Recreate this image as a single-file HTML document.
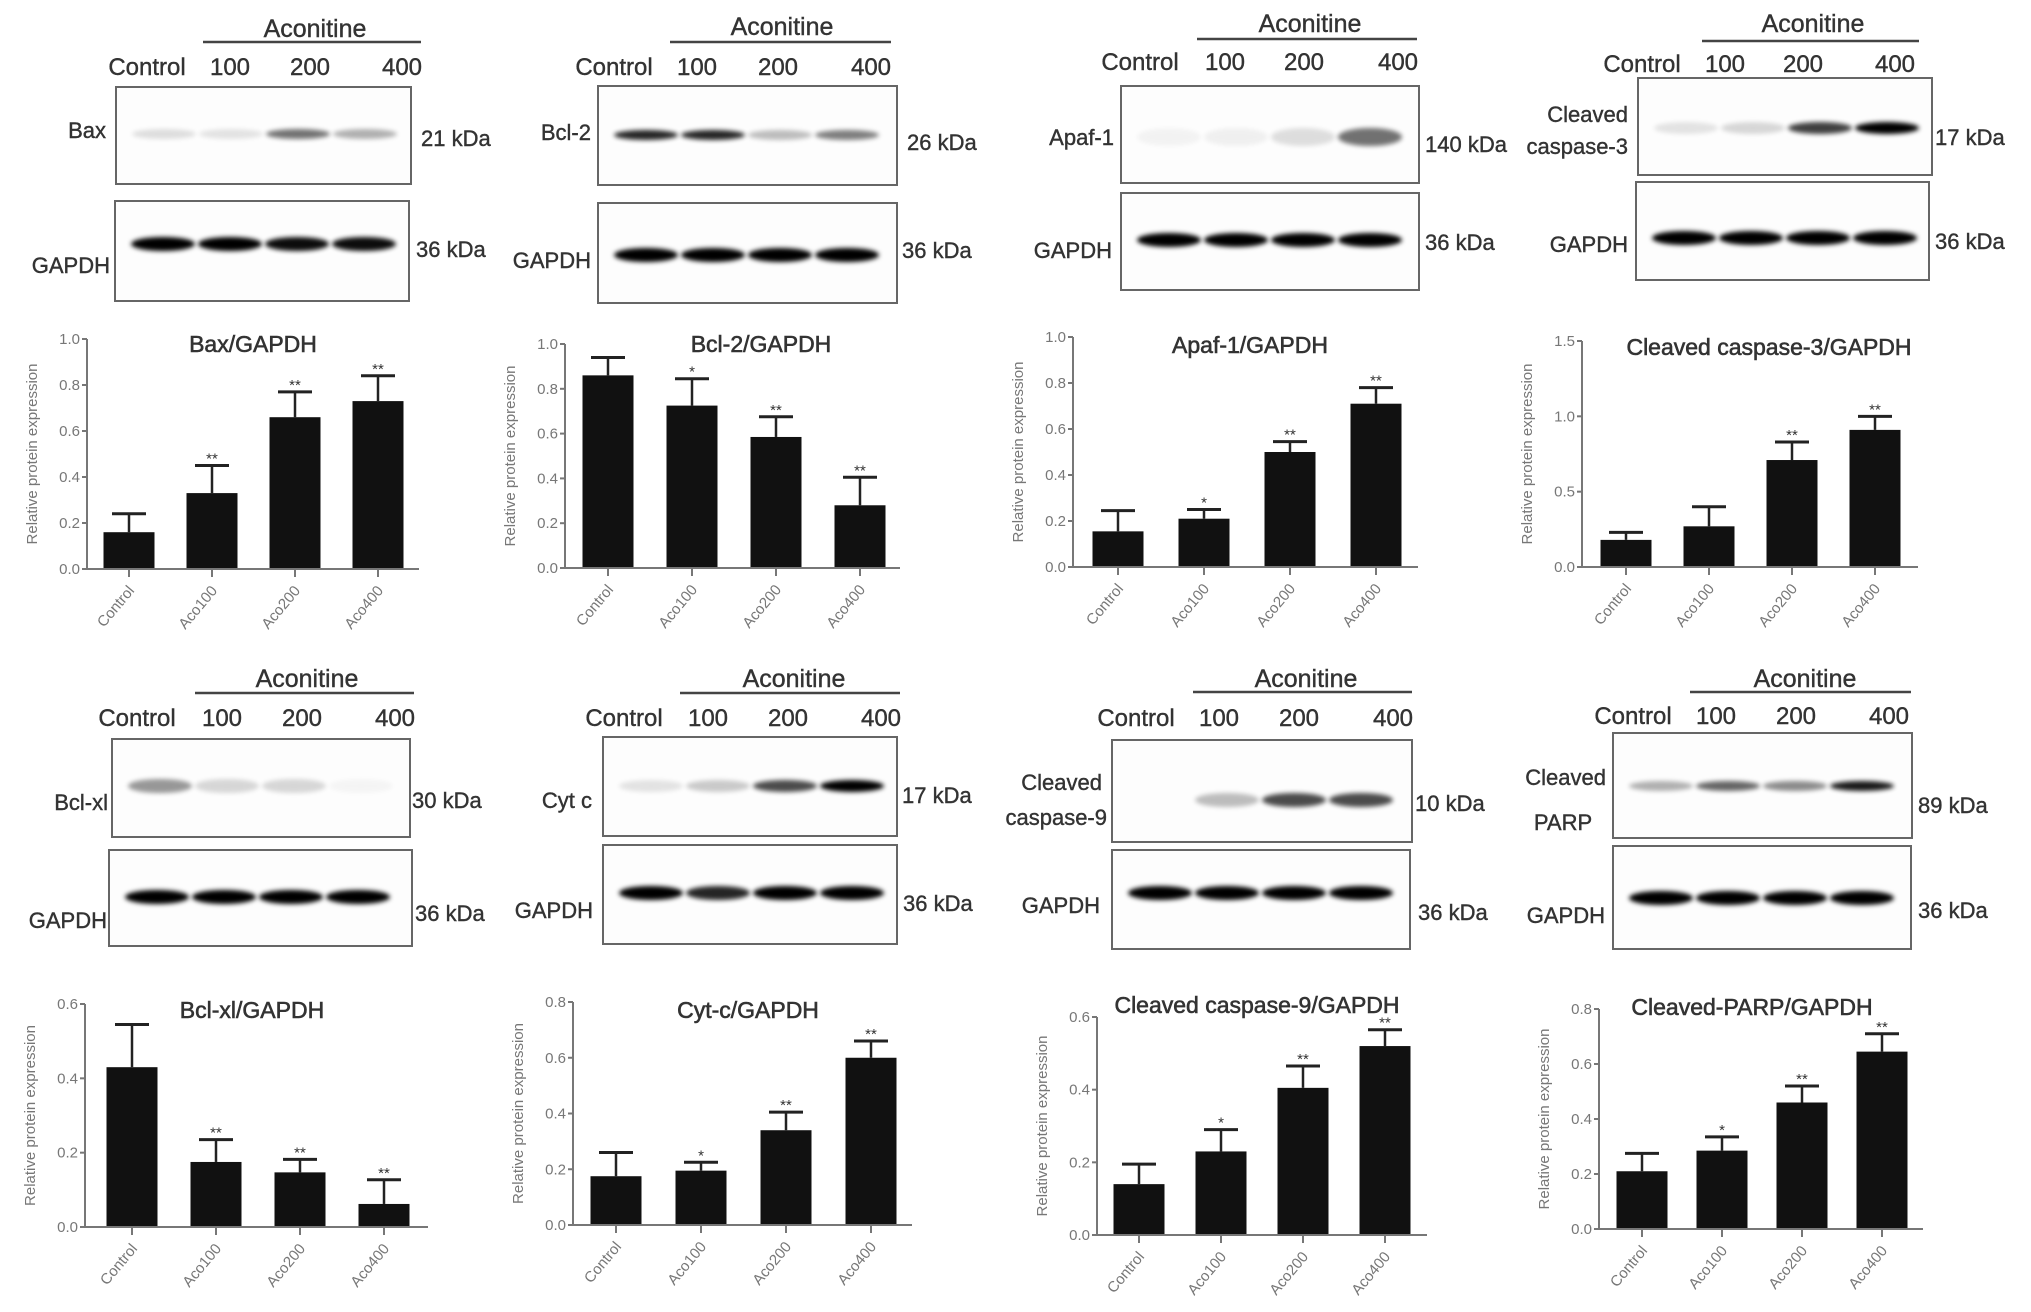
<!DOCTYPE html>
<html>
<head>
<meta charset="utf-8">
<style>
  html, body { margin: 0; padding: 0; background: #fff; }
  svg { display: block; }
  text { font-family: "Liberation Sans", "DejaVu Sans", sans-serif; }
</style>
</head>
<body>
<svg id="fig" xmlns="http://www.w3.org/2000/svg" width="2031" height="1312" viewBox="0 0 2031 1312">
  <defs>
    <filter id="blur" x="-50%" y="-100%" width="200%" height="300%">
      <feGaussianBlur stdDeviation="2.5"/>
    </filter>
  </defs>
</svg>
<script>
// ---------- Chart data ----------
const categories = ['Control', 'Aco100', 'Aco200', 'Aco400'];

const baxMeans = [0.16, 0.33, 0.66, 0.73];
const baxErrs = [0.08, 0.12, 0.11, 0.11];
const baxStars = ['', '**', '**', '**'];

const bcl2Means = [0.86, 0.725, 0.585, 0.28];
const bcl2Errs = [0.08, 0.12, 0.09, 0.125];
const bcl2Stars = ['', '*', '**', '**'];

const apafMeans = [0.155, 0.21, 0.50, 0.71];
const apafErrs = [0.09, 0.04, 0.045, 0.07];
const apafStars = ['', '*', '**', '**'];

const casp3Means = [0.18, 0.27, 0.71, 0.91];
const casp3Errs = [0.05, 0.13, 0.12, 0.09];
const casp3Stars = ['', '', '**', '**'];

const bclxlMeans = [0.43, 0.175, 0.147, 0.062];
const bclxlErrs = [0.115, 0.06, 0.035, 0.065];
const bclxlStars = ['', '**', '**', '**'];

const cytcMeans = [0.175, 0.195, 0.34, 0.60];
const cytcErrs = [0.085, 0.03, 0.065, 0.06];
const cytcStars = ['', '*', '**', '**'];

const casp9Means = [0.14, 0.23, 0.405, 0.52];
const casp9Errs = [0.055, 0.06, 0.06, 0.045];
const casp9Stars = ['', '*', '**', '**'];

const parpMeans = [0.21, 0.285, 0.46, 0.645];
const parpErrs = [0.065, 0.05, 0.06, 0.065];
const parpStars = ['', '*', '**', '**'];

const ticks01 = [0, 0.2, 0.4, 0.6, 0.8, 1.0];
const tickLabels01 = ['0.0', '0.2', '0.4', '0.6', '0.8', '1.0'];
const ticks15 = [0, 0.5, 1.0, 1.5];
const tickLabels15 = ['0.0', '0.5', '1.0', '1.5'];
const ticks06 = [0, 0.2, 0.4, 0.6];
const tickLabels06 = ['0.0', '0.2', '0.4', '0.6'];
const ticks08 = [0, 0.2, 0.4, 0.6, 0.8];
const tickLabels08 = ['0.0', '0.2', '0.4', '0.6', '0.8'];

const laneLabels = ['Control', '100', '200', '400'];

// ---------- helpers ----------
const svg = document.getElementById('fig');
const NS = 'http://www.w3.org/2000/svg';
function mk(tag, attrs, parent) {
  const e = document.createElementNS(NS, tag);
  for (const k in attrs) e.setAttribute(k, attrs[k]);
  (parent || svg).appendChild(e);
  return e;
}
function txt(str, attrs, parent) {
  const t = mk('text', attrs, parent);
  t.textContent = str;
  return t;
}

// ---------- blots ----------
function drawBlot(b) {
  const g = mk('g', {});
  
  
  const aco = txt('Aconitine', {x: b.aco[0], y: b.aco[1], 'font-size': 25, fill: '#333', 'text-anchor': 'middle', 'stroke': '#333', 'stroke-width': 0.4}, g);
  
  
  const ln = mk('line', {x1: b.line[0], x2: b.line[1], y1: b.line[2], y2: b.line[2], stroke: '#444', 'stroke-width': 2.5}, g);
  
  
  b.lanes.forEach((lx, i) => {
    const t = txt(laneLabels[i], {x: lx, y: b.laneY, 'font-size': 24, fill: '#333', 'text-anchor': 'middle', 'stroke': '#333', 'stroke-width': 0.4}, g);
    
    
  });
  [[b.box, b.inten1, b.band1, b.ry1], [b.box2, b.inten2, b.band2, 7]].forEach((bx, k) => {
    const r = mk('rect', {x: bx[0][0], y: bx[0][1], width: bx[0][2], height: bx[0][3], fill: '#fdfdfd', stroke: '#666', 'stroke-width': 2}, g);
    
    
    bx[1].forEach((v, i) => {
      if (v <= 0) return;
      const cx = bx[0][0] + 48 + 67 * i;
      const e = mk('ellipse', {cx: cx, cy: bx[2], rx: 32, ry: bx[3], fill: '#000', opacity: v, filter: 'url(#blur)'}, g);
      
      
    });
  });
  b.names.forEach(n => {
    const t = txt(n[0], {x: n[1], y: n[2], 'font-size': n[3] || 22, fill: '#333', 'text-anchor': n[4] || 'end', 'stroke': '#333', 'stroke-width': 0.4}, g);
    
    
  });
  const k1 = txt(b.kda, {x: b.kdaXY[0], y: b.kdaXY[1], 'font-size': 22, fill: '#333', 'stroke': '#333', 'stroke-width': 0.4}, g);
  
  
  const gl = txt('GAPDH', {x: b.gXY[0], y: b.gXY[1], 'font-size': 22, fill: '#333', 'text-anchor': 'end', 'stroke': '#333', 'stroke-width': 0.4}, g);
  
  
  const k2 = txt('36 kDa', {x: b.k2XY[0], y: b.k2XY[1], 'font-size': 22, fill: '#333', 'stroke': '#333', 'stroke-width': 0.4}, g);
  
  
}

const blots = [
  {id: 'bax', lanes: [147, 230, 310, 402], laneY: 75, aco: [315, 37], line: [203, 421, 42],
   box: [116, 87, 295, 97], box2: [115, 201, 294, 100], band1: 134, band2: 244, ry1: 5,
   inten1: [0.12, 0.1, 0.55, 0.3], inten2: [1, 1, 0.95, 0.95],
   names: [['Bax', 106, 138]], kda: '21 kDa', kdaXY: [421, 146], gXY: [110, 273], k2XY: [416, 257]},
  {id: 'bcl-2', lanes: [614, 697, 778, 871], laneY: 75, aco: [782, 35], line: [670, 891, 42],
   box: [598, 86, 299, 99], box2: [598, 203, 299, 100], band1: 135, band2: 255, ry1: 5,
   inten1: [0.85, 0.85, 0.25, 0.5], inten2: [1, 1, 1, 1],
   names: [['Bcl-2', 591, 140]], kda: '26 kDa', kdaXY: [907, 150], gXY: [591, 268], k2XY: [902, 258]},
  {id: 'apaf-1', lanes: [1140, 1225, 1304, 1398], laneY: 70, aco: [1310, 32], line: [1197, 1417, 39],
   box: [1121, 86, 298, 97], box2: [1121, 193, 298, 97], band1: 137, band2: 240, ry1: 9,
   inten1: [0.04, 0.05, 0.12, 0.55], inten2: [1, 1, 1, 1],
   names: [['Apaf-1', 1114, 145]], kda: '140 kDa', kdaXY: [1425, 152], gXY: [1112, 258], k2XY: [1425, 250]},
  {id: 'cleaved-caspase-3', lanes: [1642, 1725, 1803, 1895], laneY: 72, aco: [1813, 32], line: [1702, 1919, 41],
   box: [1638, 78, 294, 97], box2: [1636, 182, 293, 98], band1: 128, band2: 238, ry1: 6,
   inten1: [0.1, 0.15, 0.75, 1], inten2: [1, 1, 1, 1],
   names: [['Cleaved', 1628, 122], ['caspase-3', 1628, 154]], kda: '17 kDa', kdaXY: [1935, 145], gXY: [1628, 252], k2XY: [1935, 249]},
  {id: 'bcl-xl', lanes: [137, 222, 302, 395], laneY: 726, aco: [307, 687], line: [195, 414, 693],
   box: [112, 739, 298, 98], box2: [109, 850, 303, 96], band1: 786, band2: 897, ry1: 7,
   inten1: [0.4, 0.15, 0.15, 0.03], inten2: [1, 1, 1, 1],
   names: [['Bcl-xl', 108, 810]], kda: '30 kDa', kdaXY: [412, 808], gXY: [107, 928], k2XY: [415, 921]},
  {id: 'cyt-c', lanes: [624, 708, 788, 881], laneY: 726, aco: [794, 687], line: [680, 900, 693],
   box: [603, 737, 294, 99], box2: [603, 845, 294, 99], band1: 786, band2: 893, ry1: 6,
   inten1: [0.1, 0.2, 0.7, 1], inten2: [1, 0.85, 1, 1],
   names: [['Cyt c', 592, 808]], kda: '17 kDa', kdaXY: [902, 803], gXY: [593, 918], k2XY: [903, 911]},
  {id: 'cleaved-caspase-9', lanes: [1136, 1219, 1299, 1393], laneY: 726, aco: [1306, 687], line: [1193, 1412, 692],
   box: [1112, 740, 300, 102], box2: [1112, 850, 298, 99], band1: 800, band2: 893, ry1: 7,
   inten1: [0, 0.25, 0.7, 0.7], inten2: [1, 1, 1, 1],
   names: [['Cleaved', 1102, 790], ['caspase-9', 1107, 825]], kda: '10 kDa', kdaXY: [1415, 811], gXY: [1100, 913], k2XY: [1418, 920]},
  {id: 'cleaved-parp', lanes: [1633, 1716, 1796, 1889], laneY: 724, aco: [1805, 687], line: [1690, 1911, 692],
   box: [1613, 733, 299, 105], box2: [1613, 846, 298, 103], band1: 786, band2: 898, ry1: 5,
   inten1: [0.3, 0.6, 0.45, 0.9], inten2: [1, 1, 1, 1],
   names: [['Cleaved', 1606, 785], ['PARP', 1563, 830, 22, 'middle']], kda: '89 kDa', kdaXY: [1918, 813], gXY: [1605, 923], k2XY: [1918, 918]}
];
blots.forEach(drawBlot);

// ---------- bar charts ----------
function drawChart(c, means, errs, stars, ticks, tickLabels) {
  const g = mk('g', {});
  
  
  const y = v => c.bot - (v / c.max) * (c.bot - c.top);
  const x = i => c.ax + c.off + c.step * i;
  const bw = 51;

  const t = txt(c.title, {x: c.tx, y: c.ty, 'font-size': 23, fill: '#333', 'text-anchor': 'middle', 'stroke': '#333', 'stroke-width': 0.6}, g);
  
  

  const yl = txt('Relative protein expression', {x: 0, y: 0, 'font-size': 15, fill: '#777', 'text-anchor': 'middle',
    transform: 'translate(' + (c.ax - 50) + ',' + ((c.top + c.bot) / 2) + ') rotate(-90)'}, g);
  
  

  means.forEach((m, i) => {
    const bar = mk('rect', {x: x(i) - bw / 2, y: y(m), width: bw, height: c.bot - y(m), fill: '#111'}, g);
    
    
    const top = y(m + errs[i]);
    const eb = mk('line', {x1: x(i), x2: x(i), y1: y(m), y2: top, stroke: '#222', 'stroke-width': 2.5}, g);
    
    
    const cap = mk('line', {x1: x(i) - 17, x2: x(i) + 17, y1: top, y2: top, stroke: '#222', 'stroke-width': 3}, g);
    
    
    if (stars[i]) {
      const s = txt(stars[i], {x: x(i), y: top - 2, 'font-size': 15, fill: '#333', 'text-anchor': 'middle'}, g);
      
      
    }
    const tk = mk('line', {x1: x(i), x2: x(i), y1: c.bot, y2: c.bot + 8, stroke: '#777', 'stroke-width': 2}, g);
    
    
    const xl = txt(categories[i], {x: 0, y: 0, 'font-size': 15, fill: '#777', 'text-anchor': 'end',
      transform: 'translate(' + (x(i) + 6) + ',' + (c.bot + 22) + ') rotate(-50)'}, g);
    
    
  });

  const ya = mk('line', {x1: c.ax, x2: c.ax, y1: c.top, y2: c.bot, stroke: '#777', 'stroke-width': 2}, g);
  
  
  const xa = mk('line', {x1: c.ax, x2: c.xend, y1: c.bot, y2: c.bot, stroke: '#777', 'stroke-width': 2}, g);
  
  
  ticks.forEach((v, i) => {
    const tk = mk('line', {x1: c.ax - 5, x2: c.ax, y1: y(v), y2: y(v), stroke: '#777', 'stroke-width': 2}, g);
    
    
    const tl = txt(tickLabels[i], {x: c.ax - 7, y: y(v) + 5, 'font-size': 15, fill: '#777', 'text-anchor': 'end'}, g);
    
    
  });
}

drawChart({id: 'bax', ax: 87, top: 339, bot: 569, xend: 419, off: 42, step: 83, max: 1.0, title: 'Bax/GAPDH', tx: 253, ty: 352},
  baxMeans, baxErrs, baxStars, ticks01, tickLabels01);
drawChart({id: 'bcl-2', ax: 565, top: 344, bot: 568, xend: 900, off: 43, step: 84, max: 1.0, title: 'Bcl-2/GAPDH', tx: 761, ty: 352},
  bcl2Means, bcl2Errs, bcl2Stars, ticks01, tickLabels01);
drawChart({id: 'apaf-1', ax: 1073, top: 337, bot: 567, xend: 1418, off: 45, step: 86, max: 1.0, title: 'Apaf-1/GAPDH', tx: 1250, ty: 353},
  apafMeans, apafErrs, apafStars, ticks01, tickLabels01);
drawChart({id: 'cleaved-caspase-3', ax: 1582, top: 341, bot: 567, xend: 1918, off: 44, step: 83, max: 1.5, title: 'Cleaved  caspase-3/GAPDH', tx: 1769, ty: 355},
  casp3Means, casp3Errs, casp3Stars, ticks15, tickLabels15);
drawChart({id: 'bcl-xl', ax: 85, top: 1004, bot: 1227, xend: 428, off: 47, step: 84, max: 0.6, title: 'Bcl-xl/GAPDH', tx: 252, ty: 1018},
  bclxlMeans, bclxlErrs, bclxlStars, ticks06, tickLabels06);
drawChart({id: 'cyt-c', ax: 573, top: 1002, bot: 1225, xend: 912, off: 43, step: 85, max: 0.8, title: 'Cyt-c/GAPDH', tx: 748, ty: 1018},
  cytcMeans, cytcErrs, cytcStars, ticks08, tickLabels08);
drawChart({id: 'cleaved-caspase-9', ax: 1097, top: 1017, bot: 1235, xend: 1427, off: 42, step: 82, max: 0.6, title: 'Cleaved  caspase-9/GAPDH', tx: 1257, ty: 1013},
  casp9Means, casp9Errs, casp9Stars, ticks06, tickLabels06);
drawChart({id: 'cleaved-parp', ax: 1599, top: 1009, bot: 1229, xend: 1923, off: 43, step: 80, max: 0.8, title: 'Cleaved-PARP/GAPDH', tx: 1752, ty: 1015},
  parpMeans, parpErrs, parpStars, ticks08, tickLabels08);
</script>
</body>
</html>
